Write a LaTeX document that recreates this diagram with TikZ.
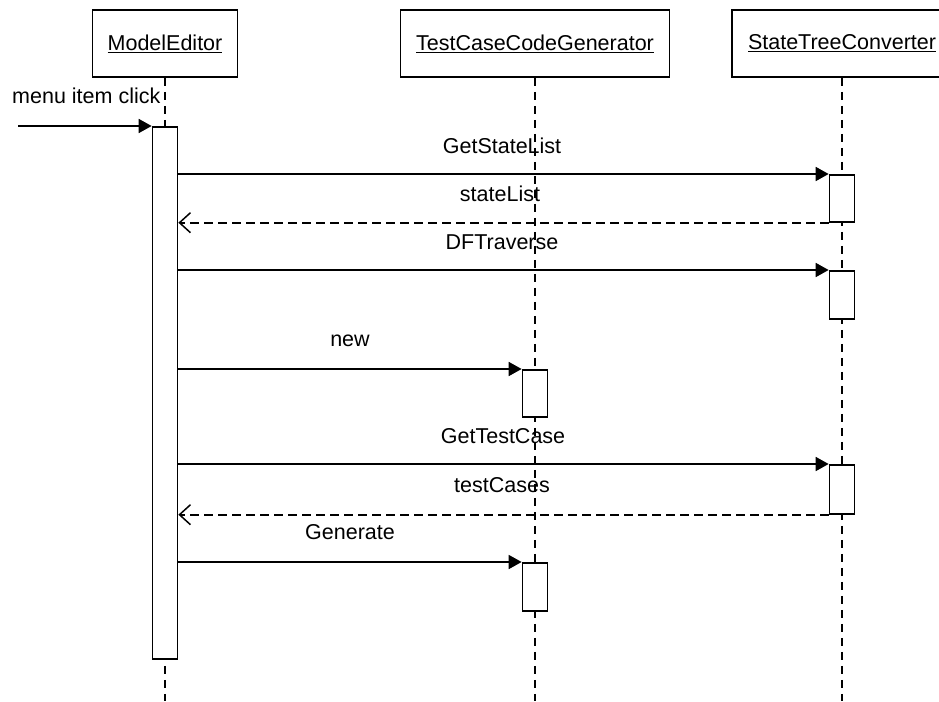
\documentclass[tikz,border=0pt]{standalone}
\usepackage{fontspec}
\setmainfont{Liberation Sans}
\usetikzlibrary{arrows.meta}
\begin{document}
\begin{tikzpicture}[x=1pt,y=-1pt,
  obj/.style={draw, line width=1.7pt, fill=white, minimum height=67pt, inner sep=0pt, font=\fontsize{21.5}{24}\selectfont},
  act/.style={draw, line width=1.7pt, fill=white, minimum width=25pt, inner sep=0pt, anchor=north},
  life/.style={line width=1.4pt, dash pattern=on 8pt off 6pt},
  msg/.style={line width=1.7pt, -{Triangle[length=13pt,width=14pt]}},
  ret/.style={line width=1.6pt, dash pattern=on 9pt off 5pt, -{Straight Barb[length=11pt,width=20pt,line width=1.5pt]}},
  lbl/.style={font=\fontsize{21.5}{24}\selectfont, anchor=base, inner sep=0pt}]
\useasboundingbox (0,0) rectangle (939,701);
\fill[white] (0,0) rectangle (939,701);
\coordinate (bot) at (0,701);
% objects
\node[obj, minimum width=145pt] (me) at (165,43.5) {\underline{ModelEditor}};
\node[obj, minimum width=269pt] (tc) at (535,43.5) {\underline{TestCaseCodeGenerator}};
\node[obj, minimum width=220pt] (st) at (842,43.5) {\underline{StateTreeConverter}};
% lifelines
\draw[life] (me.south) -- (me.south |- bot);
\draw[life] (tc.south) -- (tc.south |- bot);
\draw[life] (st.south) -- (st.south |- bot);
% activations
\node[act, minimum height=532pt] (a0) at (165,126) {};
\node[act, minimum height=47pt] (s1) at (842,174) {};
\node[act, minimum height=48pt] (s2) at (842,270) {};
\node[act, minimum height=47pt] (t1) at (535,369) {};
\node[act, minimum height=49pt] (s3) at (842,464) {};
\node[act, minimum height=48pt] (t2) at (535,562) {};
% incoming
\coordinate (start) at (18,126);
\draw[msg] (start) -- (a0.north west);
\node[lbl, anchor=base west] (lmenu) at (12,103) {menu item click};
% messages
\draw[msg] (a0.east |- s1.north) -- (s1.north west);
\node[lbl] (l1) at (502,153) {GetStateList};
\draw[ret] (s1.south west) -- (a0.east |- s1.south);
\node[lbl] (l2) at (500,201) {stateList};
\draw[msg] (a0.east |- s2.north) -- (s2.north west);
\node[lbl] (l3) at (502,249) {DFTraverse};
\draw[msg] (a0.east |- t1.north) -- (t1.north west);
\node[lbl] (l4) at (350,346) {new};
\draw[msg] (a0.east |- s3.north) -- (s3.north west);
\node[lbl] (l5) at (503,443) {GetTestCase};
\draw[ret] (s3.south west) -- (a0.east |- s3.south);
\node[lbl] (l6) at (502,492) {testCases};
\draw[msg] (a0.east |- t2.north) -- (t2.north west);
\node[lbl] (l7) at (350,539) {Generate};
\end{tikzpicture}
\end{document}
